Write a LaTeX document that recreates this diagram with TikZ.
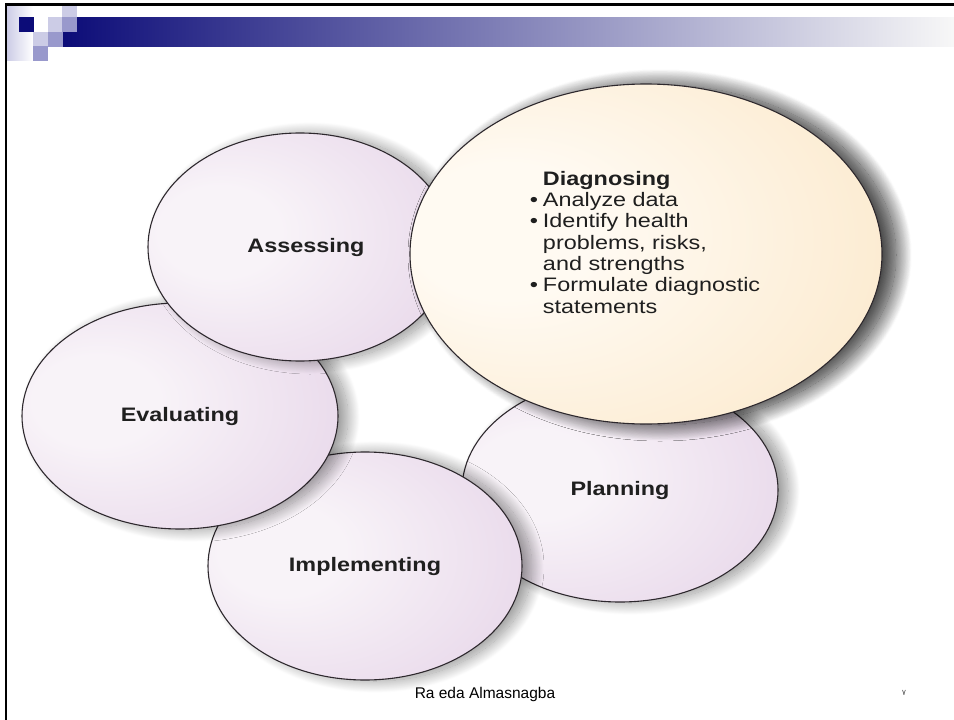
\documentclass[tikz,border=0pt]{standalone}
\usepackage{fontspec}
\setmainfont{Liberation Sans}
\newfontfamily\etiq{Liberation Sans}[FakeStretch=1.2]
\newfontfamily\arabe[Script=Arabic]{DejaVu Sans}
\usetikzlibrary{shapes.geometric,shadows.blur}

\definecolor{azulA}{RGB}{12,12,120}
\definecolor{azulM}{RGB}{170,170,196}
\definecolor{lavC}{RGB}{204,204,230}
\definecolor{lavM}{RGB}{153,153,204}
\definecolor{lilaA}{RGB}{248,243,248}
\definecolor{lilaB}{RGB}{224,202,227}
\definecolor{cremaA}{RGB}{255,250,242}
\definecolor{cremaB}{RGB}{250,226,188}
\definecolor{borde}{RGB}{45,40,45}

\pgfdeclareradialshading{lila}{\pgfpoint{-16bp}{4bp}}{color(0bp)=(lilaA); color(10bp)=(lilaA); color(50bp)=(lilaB); color(60bp)=(lilaB)}
\pgfdeclareradialshading{crema}{\pgfpoint{-18bp}{4bp}}{color(0bp)=(cremaA); color(10bp)=(cremaA); color(50bp)=(cremaB); color(60bp)=(cremaB)}

\begin{document}
\begin{tikzpicture}[x=1pt,y=-1pt,
    fase/.style={ellipse,draw=borde,line width=1.1pt,inner sep=0pt,
        shade,shading=lila,text=black!88,
        font=\etiq\fontsize{19.5}{21.3}\selectfont\bfseries,
        blur shadow={shadow xshift=10pt,shadow yshift=-1pt,
            shadow blur radius=12pt,shadow blur steps=30,shadow opacity=42}},
    lista/.style={align=left,inner sep=0pt,text=black!88,
        font=\etiq\fontsize{19.5}{21.3}\selectfont}]

    \useasboundingbox (0,0) rectangle (954,720);

    %Encabezado
    \shade[left color=lavC,right color=white] (7,6) rectangle (33,60);
    \shade[left color=azulA,middle color=azulM,right color=white!97!black] (62,17) rectangle (954,46);
    \foreach \x/\y/\c in {19/17/azulA,48/17/lavC,62/17/lavM,62/2.5/lavC,33/32/lavC,48/32/lavM,33/46/lavM}{
        \fill[\c] (\x,\y) rectangle ++(14.5,14.5);
    }
    \draw[line width=2.8pt] (6,720) -- (6,4.7) -- (954,4.7);

    %Elipses
    \node[fase,minimum width=316pt,minimum height=224pt] (plan) at (620,490) {Planning};
    \node[fase,minimum width=314pt,minimum height=228pt] (impl) at (365,566) {Implementing};
    \node[fase,minimum width=316pt,minimum height=226pt] (eval) at (180,416) {Evaluating};
    \node[fase,minimum width=304pt,minimum height=228pt] (valor) at (300,247) {\hspace*{12pt}Assessing};
    \node[fase,shading=crema,minimum width=472pt,minimum height=340pt,
        blur shadow={shadow xshift=14pt,shadow yshift=-1pt,shadow blur radius=16pt,
            shadow blur steps=30,shadow opacity=50}] (diag) at (646,254) {};

    %Texto diagnostico
    \node[lista] (diagtxt) at (645,245) {%
        \begin{tabular}{@{}l@{\hspace{5pt}}l@{}}
            & \textbf{Diagnosing}\\
            \textbullet & Analyze data\\
            \textbullet & Identify health\\
            & problems, risks,\\
            & and strengths\\
            \textbullet & Formulate diagnostic\\
            & statements
        \end{tabular}};

    %Pie
    \node[font=\fontsize{15.5}{16}\selectfont] (pie) at (485,694) {Ra eda Almasnagba};
    \node[font=\arabe\fontsize{8}{9}\selectfont,text=black!70] (num) at (904,693) {٧};

\end{tikzpicture}
\end{document}
